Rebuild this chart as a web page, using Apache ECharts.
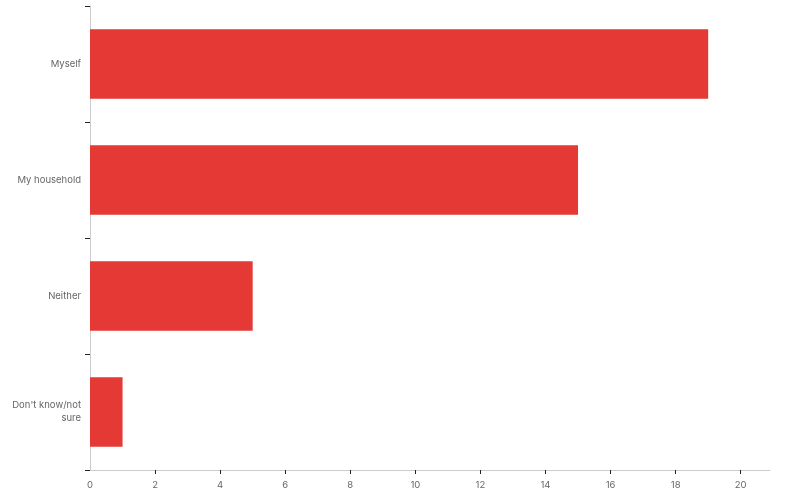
<!DOCTYPE html>
<html>
<head>
<meta charset="utf-8">
<script src="https://cdn.jsdelivr.net/npm/echarts@6/dist/echarts.min.js"></script>
<style>
  html, body { margin: 0; padding: 0; background: #fff; }
  #chart { width: 800px; height: 500px; }
</style>
</head>
<body>
<div id="chart"></div>
<script>
// categories top to bottom
var categories = ['Myself', 'My household', 'Neither', "Don't know/not\nsure"];
var counts = [19, 15, 5, 1];
var xTicks = [0, 2, 4, 6, 8, 10, 12, 14, 16, 18, 20];

var myChart = echarts.init(document.getElementById('chart'));

myChart.setOption({
  animation: false,
  backgroundColor: '#fff',
  textStyle: { fontFamily: 'Inter, Roboto, sans-serif' },
  grid: { left: 90, right: 30, top: 6, bottom: 30, containLabel: false },
  xAxis: {
    type: 'value',
    min: 0,
    max: 20.9,
    splitLine: { show: false },
    axisLine: { show: true, lineStyle: { color: '#cccccc', width: 1 } },
    axisTick: { show: true, length: 4, customValues: xTicks.slice(1), lineStyle: { color: '#222' } },
    axisLabel: { customValues: xTicks, color: '#666', fontSize: 9.5, margin: 10 }
  },
  yAxis: {
    type: 'category',
    inverse: true,
    data: categories,
    axisLine: { show: true, lineStyle: { color: '#cccccc', width: 1 } },
    axisTick: { show: true, length: 5, lineStyle: { color: '#222' } },
    axisLabel: { color: '#666', fontSize: 9.5, margin: 9, align: 'right', lineHeight: 13 }
  },
  series: [{
    type: 'bar',
    data: counts,
    barCategoryGap: '40%',
    itemStyle: { color: '#e53935' }
  }]
});
</script>
</body>
</html>
